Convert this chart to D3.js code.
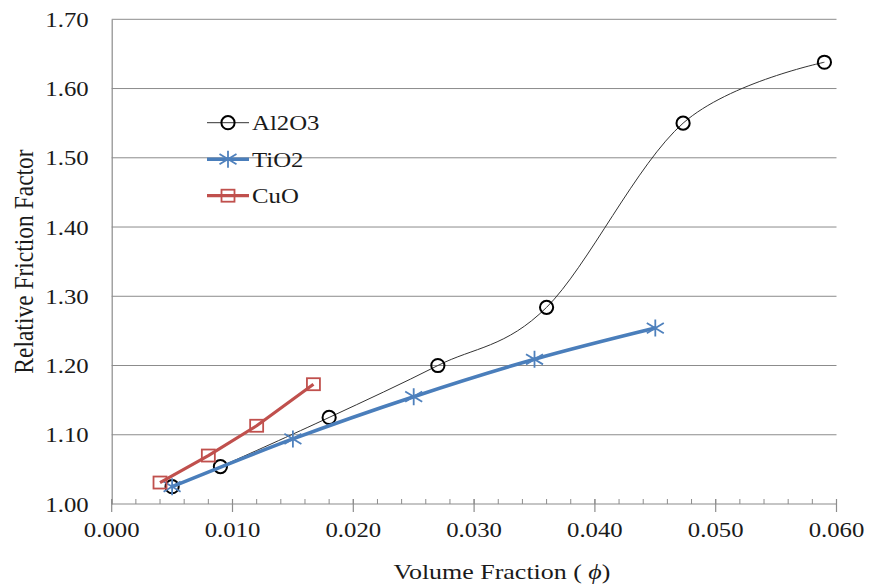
<!DOCTYPE html>
<html>
<head>
<meta charset="utf-8">
<script src="https://cdn.jsdelivr.net/npm/d3@7"></script>
<style>
  html, body { margin: 0; padding: 0; background: #fff; }
  svg { display: block; }
</style>
</head>
<body>
<svg id="chart" width="871" height="586"></svg>
<script>
// Volume fraction (x) and relative friction factor (y) per nanofluid
const al2o3Phi = [0.005, 0.009, 0.018, 0.027, 0.036, 0.0473, 0.059];
const al2o3F   = [1.025, 1.054, 1.125, 1.200, 1.284, 1.550, 1.638];
const tio2Phi  = [0.005, 0.015, 0.025, 0.035, 0.045];
const tio2F    = [1.025, 1.094, 1.155, 1.209, 1.254];
const cuoPhi   = [0.004, 0.008, 0.012, 0.0167];
const cuoF     = [1.031, 1.070, 1.113, 1.173];
const seriesNames = ["Al2O3", "TiO2", "CuO"];
const yTicks = [1.00, 1.10, 1.20, 1.30, 1.40, 1.50, 1.60, 1.70];
const xTicks = [0.000, 0.010, 0.020, 0.030, 0.040, 0.050, 0.060];
const xMinorTicks = d3.range(0, 0.0601, 0.002);

const FONT = "'Liberation Serif', 'Times New Roman', serif";
const SX = 1.18;       // horizontal glyph widening
const GRID = "#8c8c8c";

const svg = d3.select("#chart");
svg.append("rect").attr("width", 871).attr("height", 586).attr("fill", "#fff");

const x = d3.scaleLinear().domain([0, 0.06]).range([111.7, 836.5]);
const y = d3.scaleLinear().domain([1.0, 1.7]).range([504, 19.3]);

// horizontal gridlines
svg.append("g").selectAll("line").data(yTicks.slice(1)).join("line")
  .attr("x1", x(0)).attr("x2", x(0.06))
  .attr("y1", d => y(d)).attr("y2", d => y(d))
  .attr("stroke", GRID).attr("stroke-width", 1);

// y axis: line + labels
const yAxis = svg.append("g").attr("transform", `translate(${x(0)},0)`)
  .call(d3.axisLeft(y).tickValues(yTicks).tickFormat(d3.format(".2f")).tickSize(0).tickPadding(0));
yAxis.select(".domain").attr("stroke", GRID).attr("stroke-width", 1.2);
yAxis.selectAll(".tick text")
  .attr("x", 0).attr("dy", "0.34em")
  .attr("transform", `translate(-23,0) scale(${SX},1)`)
  .attr("font-family", FONT).attr("font-size", 21).attr("fill", "#1a1a1a");

// x axis: crossing major ticks, inner minor ticks, labels
const xg = svg.append("g");
xg.append("line").attr("x1", x(0)).attr("x2", x(0.06)).attr("y1", y(1)).attr("y2", y(1))
  .attr("stroke", GRID).attr("stroke-width", 1.2);
xg.selectAll("line.minor").data(xMinorTicks).join("line").attr("class", "minor")
  .attr("x1", d => x(d)).attr("x2", d => x(d))
  .attr("y1", y(1) - 5).attr("y2", y(1))
  .attr("stroke", GRID).attr("stroke-width", 1);
xg.selectAll("line.major").data(xTicks).join("line").attr("class", "major")
  .attr("x1", d => x(d)).attr("x2", d => x(d))
  .attr("y1", y(1) - 5).attr("y2", y(1) + 8)
  .attr("stroke", GRID).attr("stroke-width", 1.2);
xg.selectAll("text").data(xTicks).join("text")
  .attr("transform", d => `translate(${x(d)},537) scale(${SX},1)`)
  .attr("text-anchor", "middle")
  .attr("font-family", FONT).attr("font-size", 21).attr("fill", "#1a1a1a")
  .text(d3.format(".3f"));

// axis titles
const xt = svg.append("text")
  .attr("transform", `translate(502,579) scale(${SX},1)`)
  .attr("text-anchor", "middle")
  .attr("font-family", FONT).attr("font-size", 22).attr("fill", "#1a1a1a");
xt.append("tspan").text("Volume Fraction ( ");
xt.append("tspan").attr("font-style", "italic").text("ϕ");
xt.append("tspan").text(")");

svg.append("text")
  .attr("transform", `translate(33,261.5) scale(${SX},1) rotate(-90)`)
  .attr("text-anchor", "middle")
  .attr("font-family", FONT).attr("font-size", 23.5).attr("fill", "#1a1a1a")
  .text("Relative Friction Factor");

// series styles
const styles = {
  Al2O3: { color: "#333", width: 1, curve: d3.curveCardinal.tension(0) },
  TiO2:  { color: "#4A7EBB", width: 3.6, curve: d3.curveCardinal.tension(0) },
  CuO:   { color: "#C0504D", width: 3.2, curve: d3.curveLinear }
};
const seriesData = {
  Al2O3: al2o3Phi.map((p, i) => [p, al2o3F[i]]),
  TiO2:  tio2Phi.map((p, i) => [p, tio2F[i]]),
  CuO:   cuoPhi.map((p, i) => [p, cuoF[i]])
};

function drawMarker(g, name, cx, cy) {
  if (name === "Al2O3") {
    g.append("circle").attr("cx", cx).attr("cy", cy).attr("r", 6.6)
      .attr("fill", "none").attr("stroke", "#000").attr("stroke-width", 2);
  } else if (name === "TiO2") {
    const s = 8.5;
    const p = `M${cx},${cy - s}L${cx},${cy + s}` +
              `M${cx - s},${cy - s * 0.6}L${cx + s},${cy + s * 0.6}` +
              `M${cx - s},${cy + s * 0.6}L${cx + s},${cy - s * 0.6}`;
    g.append("path").attr("d", p).attr("fill", "none")
      .attr("stroke", "#4F81BD").attr("stroke-width", 1.8);
  } else {
    g.append("rect").attr("x", cx - 6.5).attr("y", cy - 6).attr("width", 13).attr("height", 12)
      .attr("fill", "none").attr("stroke", "#C0504D").attr("stroke-width", 1.8);
  }
}

seriesNames.forEach(name => {
  const st = styles[name];
  const g = svg.append("g");
  g.append("path").datum(seriesData[name])
    .attr("d", d3.line().x(d => x(d[0])).y(d => y(d[1])).curve(st.curve))
    .attr("fill", "none").attr("stroke", st.color).attr("stroke-width", st.width)
    .attr("stroke-linejoin", "round");
  seriesData[name].forEach(d => drawMarker(g, name, x(d[0]), y(d[1])));
});

// legend
const legend = svg.append("g");
seriesNames.forEach((name, i) => {
  const ly = 122.7 + i * 36.5;
  const st = styles[name];
  legend.append("line").attr("x1", 207).attr("x2", 249).attr("y1", ly).attr("y2", ly)
    .attr("stroke", st.color).attr("stroke-width", st.width);
  drawMarker(legend, name, 228, ly);
  legend.append("text")
    .attr("transform", `translate(252,${ly + 7.5}) scale(${SX},1)`)
    .attr("font-family", FONT).attr("font-size", 21).attr("fill", "#1a1a1a")
    .text(name);
});
</script>
</body>
</html>
